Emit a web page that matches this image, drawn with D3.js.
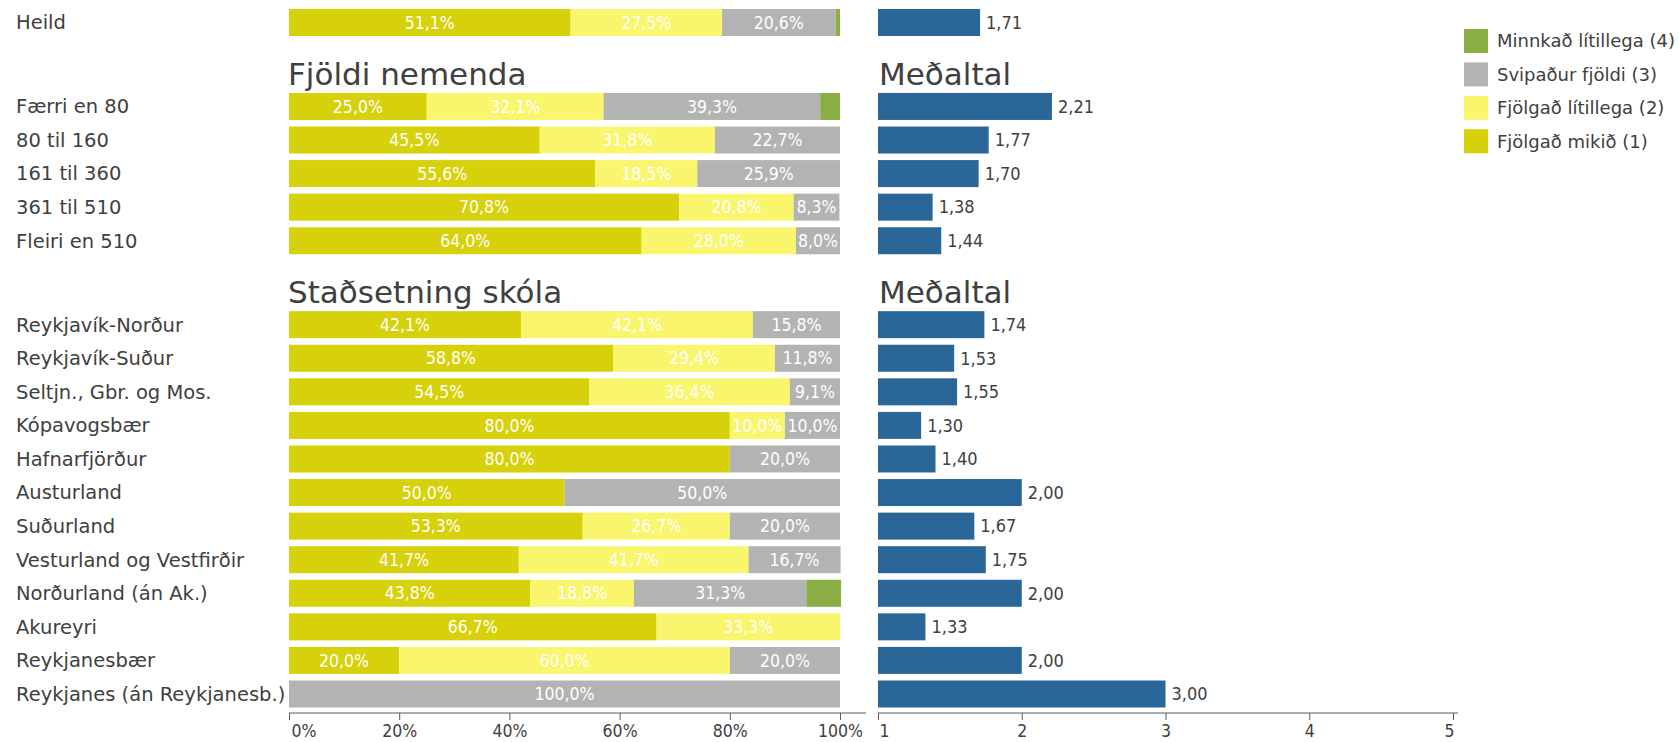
<html>
<head>
<script src="https://d3js.org/d3.v7.min.js"></script>
<style>
  body { margin: 0; background: #fff; font-family: "DejaVu Sans", sans-serif; }
  .rowlabel { font-size: 19.5px; fill: #404040; }
  .header { font-size: 31px; fill: #404040; }
  .seglabel { font-size: 17.5px; fill: #fff; font-family: "DejaVu Sans Condensed", sans-serif; }
  .meanlabel { font-size: 18px; fill: #404040; font-family: "DejaVu Sans Condensed", sans-serif; }
  .legend text { font-size: 18px; fill: #404040; }
  .axis text { font-size: 17.5px; fill: #404040; font-family: "DejaVu Sans Condensed", sans-serif; }
  .axis path, .axis line { stroke: #595959; }
</style>
</head>
<body>
<svg id="chart" width="1679" height="742"></svg>
<script>
// row labels, with their slot position (gaps hold the section headers)
const rows = [
  "Heild",
  "Færri en 80", "80 til 160", "161 til 360", "361 til 510", "Fleiri en 510",
  "Reykjavík-Norður", "Reykjavík-Suður", "Seltjn., Gbr. og Mos.", "Kópavogsbær",
  "Hafnarfjörður", "Austurland", "Suðurland", "Vesturland og Vestfirðir",
  "Norðurland (án Ak.)", "Akureyri", "Reykjanesbær", "Reykjanes (án Reykjanesb.)"
];
const slots = [0, 2.5, 3.5, 4.5, 5.5, 6.5, 9, 10, 11, 12, 13, 14, 15, 16, 17, 18, 19, 20];

const seriesNames = ["Fjölgað mikið (1)", "Fjölgað lítillega (2)", "Svipaður fjöldi (3)", "Minnkað lítillega (4)"];
const seriesColors = ["#d6d10a", "#f9f56d", "#b3b3b3", "#8aad44"];

// percentages per row
const mikid    = [51.1, 25.0, 45.5, 55.6, 70.8, 64.0, 42.1, 58.8, 54.5, 80.0, 80.0, 50.0, 53.3, 41.7, 43.8, 66.7, 20.0, 0];
const litillega = [27.5, 32.1, 31.8, 18.5, 20.8, 28.0, 42.1, 29.4, 36.4, 10.0, 0, 0, 26.7, 41.7, 18.8, 33.3, 60.0, 0];
const svipadur = [20.6, 39.3, 22.7, 25.9, 8.3, 8.0, 15.8, 11.8, 9.1, 10.0, 20.0, 50.0, 20.0, 16.7, 31.3, 0, 20.0, 100.0];
const minnkad  = [0.8, 3.6, 0, 0, 0, 0, 0, 0, 0, 0, 0, 0, 0, 0, 6.3, 0, 0, 0];

const means = [1.71, 2.21, 1.77, 1.70, 1.38, 1.44, 1.74, 1.53, 1.55, 1.30, 1.40, 2.00, 1.67, 1.75, 2.00, 1.33, 2.00, 3.00];

const headers = [
  { text: "Fjöldi nemenda", slot: 1.45 },
  { text: "Staðsetning skóla", slot: 7.95 }
];

const pctTicks = [0, 20, 40, 60, 80, 100];
const meanTicks = [1, 2, 3, 4, 5];

const locale = d3.formatLocale({ decimal: ",", thousands: ".", grouping: [3], currency: ["", " kr"] });
const fmt1 = locale.format(".1f");
const fmt2 = locale.format(".2f");

const svg = d3.select("#chart");

const x = d3.scaleLinear().domain([0, 100]).range([289, 840]);
const xm = d3.scaleLinear().domain([1, 5]).range([878, 1453]);
const y = d3.scaleLinear().domain([0, 20]).range([22.5, 694]);
const barH = 27;

const series = [mikid, litillega, svipadur, minnkad];

const data = rows.map((name, i) => {
  let acc = 0;
  const segs = series.map((s, k) => {
    const d = { k: k, v: s[i], x0: acc, x1: acc + s[i], row: i };
    acc += s[i];
    return d;
  });
  return { name: name, slot: slots[i], segs: segs, mean: means[i] };
});

// row labels
svg.append("g").selectAll("text").data(data)
  .join("text")
  .attr("class", "rowlabel")
  .attr("x", 16)
  .attr("y", d => y(d.slot))
  .attr("dy", "0.35em")
  .text(d => d.name);

// section headers
headers.forEach(h => {
  svg.append("text").attr("class", "header")
    .attr("x", x(0) - 1).attr("y", y(h.slot) + 14).text(h.text);
  svg.append("text").attr("class", "header")
    .attr("x", xm(1) + 1).attr("y", y(h.slot) + 14).text("Meðaltal");
});

// stacked bars
const rowG = svg.append("g").selectAll("g").data(data)
  .join("g")
  .attr("transform", d => "translate(0," + (y(d.slot) - barH / 2) + ")");

rowG.selectAll("rect").data(d => d.segs.filter(s => s.v > 0))
  .join("rect")
  .attr("x", s => x(s.x0))
  .attr("width", s => x(s.x1) - x(s.x0))
  .attr("height", barH)
  .attr("fill", s => seriesColors[s.k]);

rowG.selectAll("text").data(d => d.segs.filter(s => s.v >= 7))
  .join("text")
  .attr("class", "seglabel")
  .attr("x", s => (x(s.x0) + x(s.x1)) / 2)
  .attr("y", barH / 2)
  .attr("dy", "0.35em")
  .attr("text-anchor", "middle")
  .text(s => fmt1(s.v) + "%");

// mean bars
const meanG = svg.append("g").selectAll("g").data(data)
  .join("g")
  .attr("transform", d => "translate(0," + (y(d.slot) - barH / 2) + ")");

meanG.append("rect")
  .attr("x", xm(1))
  .attr("width", d => xm(d.mean) - xm(1))
  .attr("height", barH)
  .attr("fill", "#2b6699");

meanG.append("text")
  .attr("class", "meanlabel")
  .attr("x", d => xm(d.mean) + 6)
  .attr("y", barH / 2)
  .attr("dy", "0.35em")
  .text(d => fmt2(d.mean));

// axes
const axisY = 713;
const ax1 = svg.append("g").attr("class", "axis")
  .attr("transform", "translate(0," + axisY + ")")
  .call(d3.axisBottom(x).tickValues(pctTicks).tickFormat(d => d + "%").tickSizeOuter(0).tickSize(7));
ax1.select(".domain").attr("d", "M" + x(0) + ",0H866");
ax1.selectAll(".tick text").attr("y", 12);
ax1.selectAll(".tick").filter(d => d === 0).select("text").attr("text-anchor", "start").attr("x", 2);

const ax2 = svg.append("g").attr("class", "axis")
  .attr("transform", "translate(0," + axisY + ")")
  .call(d3.axisBottom(xm).tickValues(meanTicks).tickFormat(d => d).tickSizeOuter(0).tickSize(7));
ax2.select(".domain").attr("d", "M" + xm(1) + ",0H1458");
ax2.selectAll(".tick text").attr("y", 12);
ax2.selectAll(".tick").filter(d => d === 1).select("text").attr("text-anchor", "start").attr("x", 1);
ax2.selectAll(".tick").filter(d => d === 5).select("text").attr("text-anchor", "end").attr("x", 1);

// legend (reversed order, top is series 4)
const legend = svg.append("g").attr("class", "legend").attr("transform", "translate(1464,29)");
const legItems = seriesNames.map((n, k) => ({ name: n, color: seriesColors[k] })).reverse();
legItems.forEach((it, i) => {
  legend.append("rect").attr("x", 0).attr("y", i * 33.4).attr("width", 24).attr("height", 24).attr("fill", it.color);
  legend.append("text").attr("x", 33).attr("y", i * 33.4 + 12).attr("dy", "0.35em").text(it.name);
});
</script>
</body>
</html>
